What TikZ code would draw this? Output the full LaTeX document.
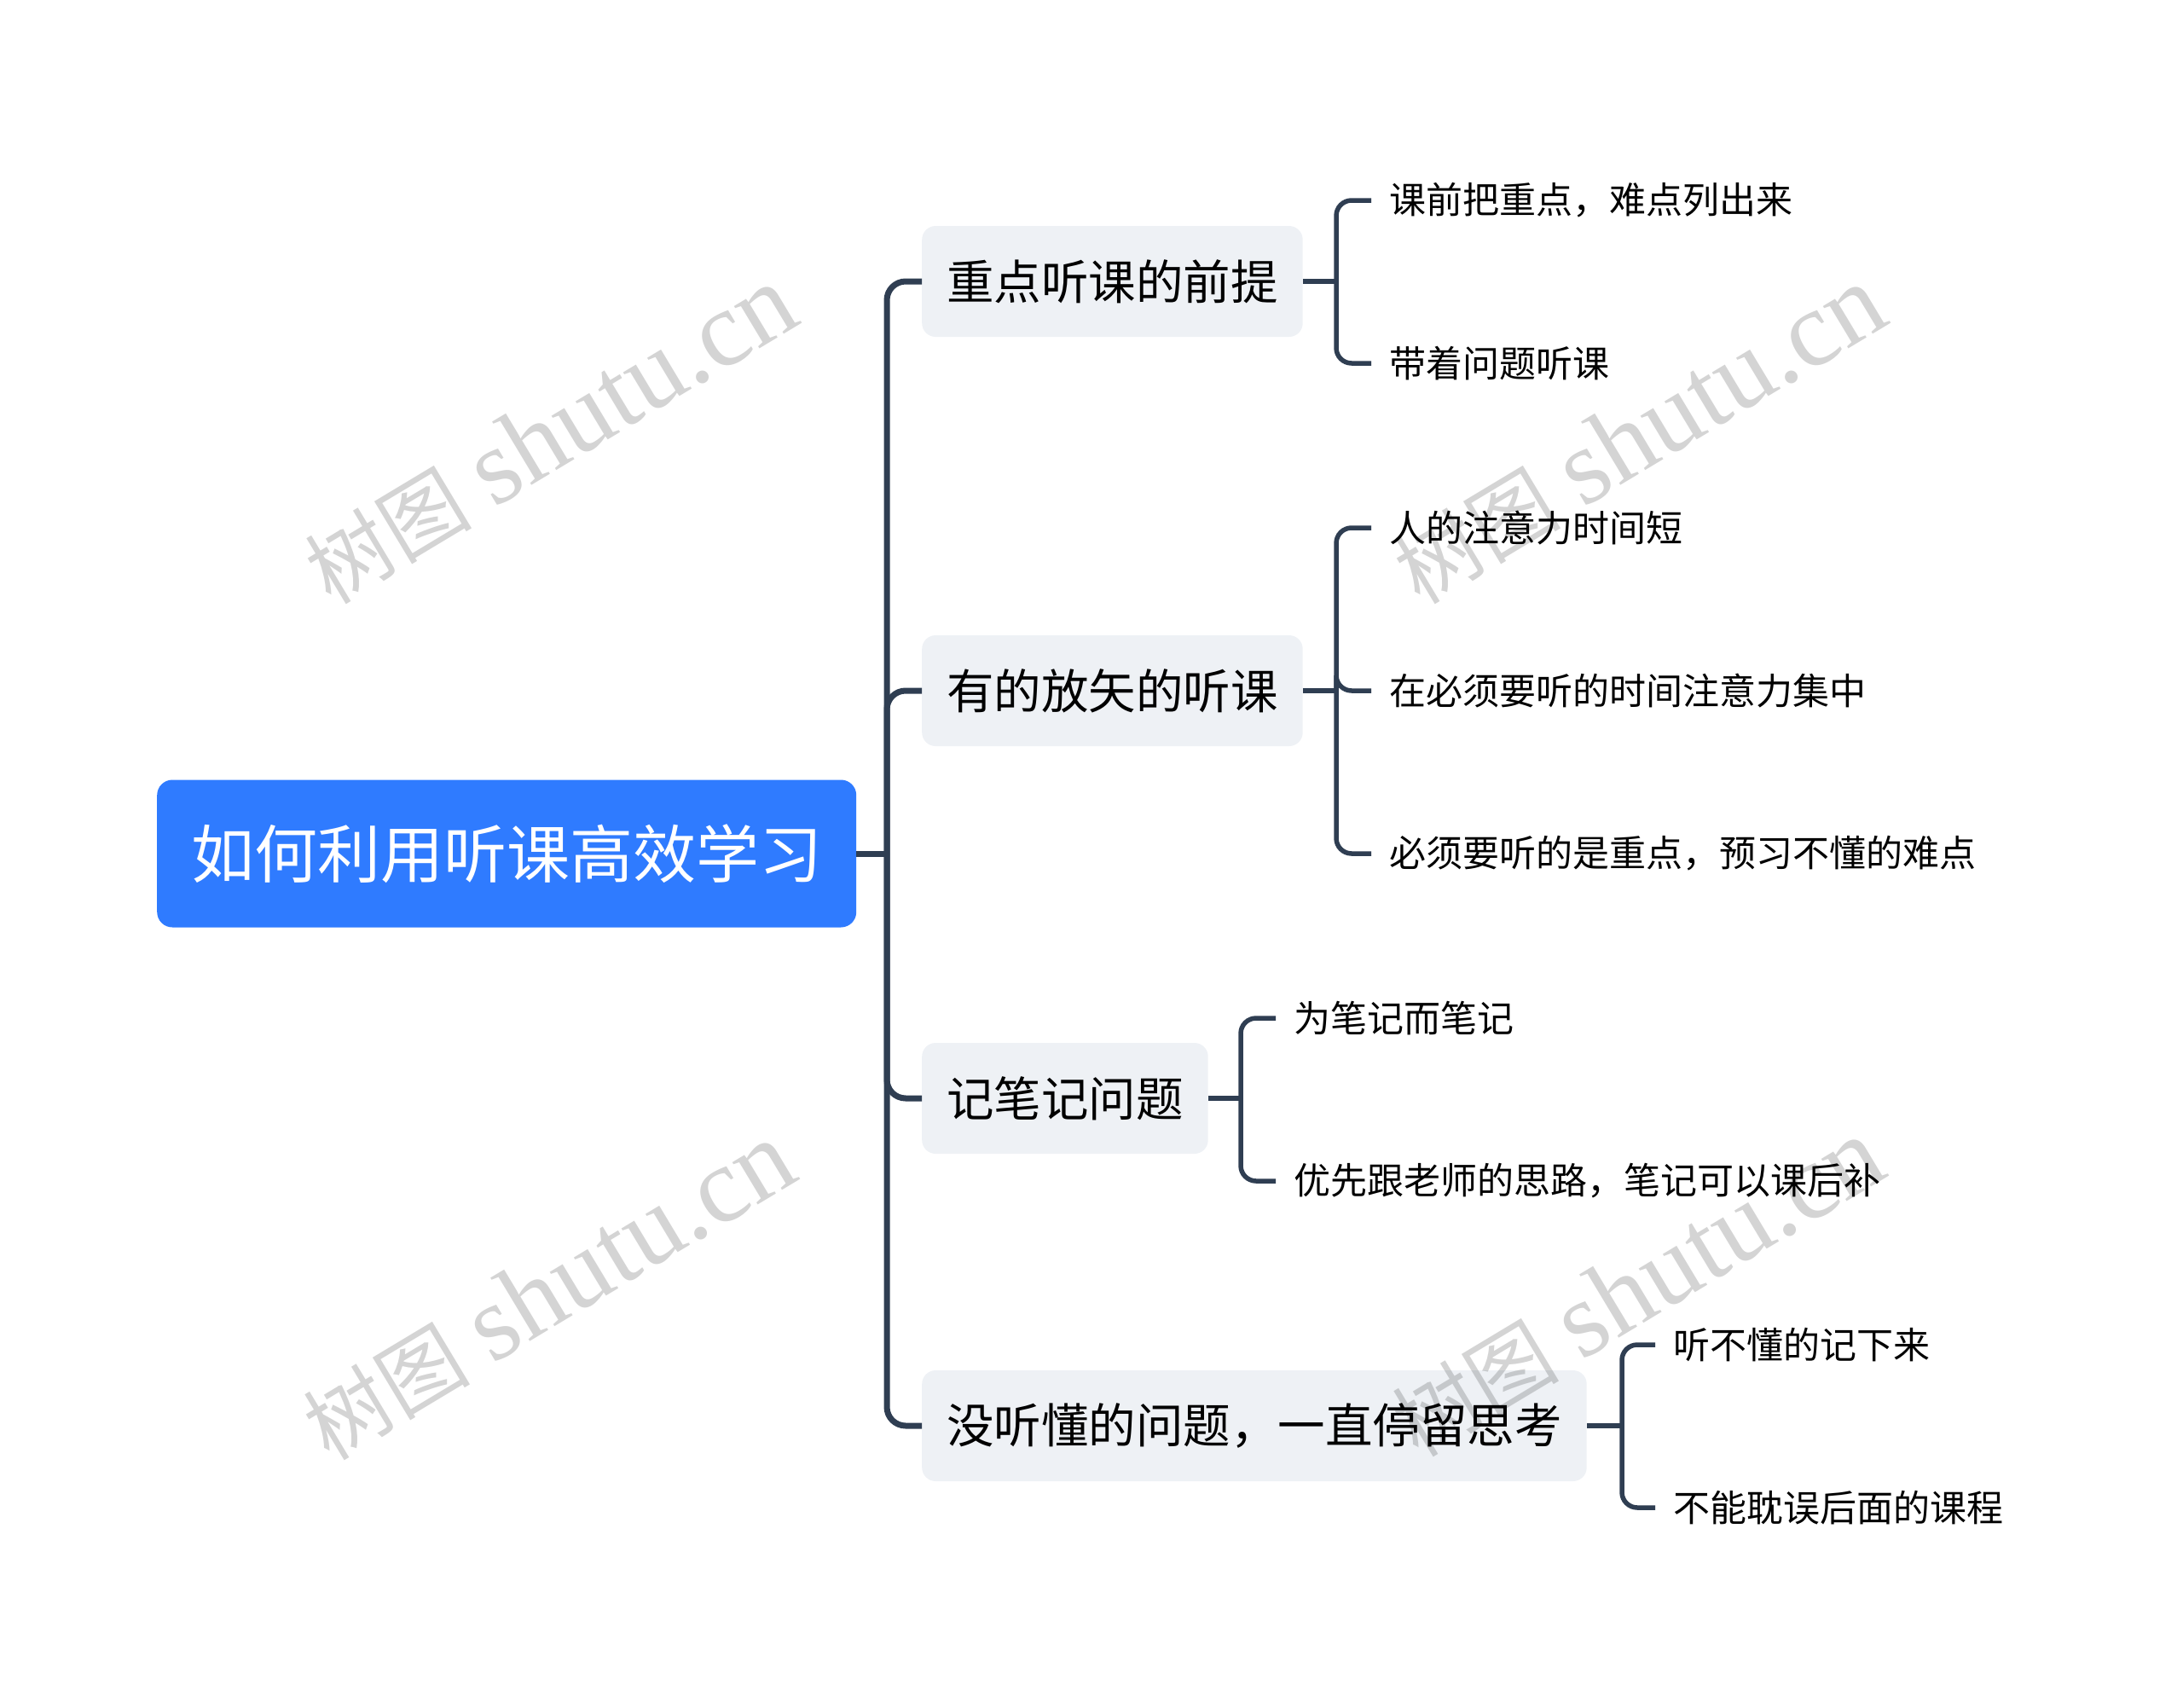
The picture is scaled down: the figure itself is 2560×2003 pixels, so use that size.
\documentclass[tikz,border=0pt]{standalone}
\usepackage{fontspec}
\newfontfamily\cjk{Noto Sans CJK SC}
\newfontfamily\wmserif{Liberation Serif}
\usetikzlibrary{positioning,calc}

\definecolor{rootblue}{HTML}{2F7BFF}
\definecolor{topicgray}{HTML}{EEF1F5}
\definecolor{linkslate}{HTML}{2F3E52}

\tikzset{
  rootbox/.style={rectangle, rounded corners=18pt, fill=rootblue, text=white,
    font=\cjk\fontsize{74}{90}\selectfont, inner xsep=40pt, minimum height=173pt, anchor=west},
  topicbox/.style={rectangle, rounded corners=16pt, fill=topicgray,
    font=\cjk\fontsize{55.5}{66}\selectfont, inner xsep=29pt, minimum height=130pt, anchor=west},
  leaf/.style={font=\cjk\fontsize{43}{52}\selectfont, inner xsep=21pt, inner ysep=0pt, anchor=west},
  trunk/.style={draw=linkslate, line width=7pt, rounded corners=22pt},
  twig/.style={draw=linkslate, line width=5.5pt, rounded corners=18pt},
  watermark/.style={text=black, text opacity=0.17, rotate=31, inner sep=0pt}
}
\newcommand{\wmtext}{{\cjk\fontsize{98}{110}\selectfont 树图}\hspace{26pt}{\wmserif\fontsize{126}{140}\selectfont shutu.cn}}

\begin{document}
\begin{tikzpicture}[x=1pt, y=-1pt]
  \useasboundingbox (0,0) rectangle (2560,2003);

  % central topic
  \node (root) [rootbox] at (184,1001) {如何利用听课高效学习};

  % main branches
  \node (prem) [topicbox] at (1081,330) {重点听课的前提};
  \node (aim) [topicbox] at (1081,810) {有的放矢的听课};
  \node (notes) [topicbox] at (1081,1288) {记笔记问题};
  \node (stuck) [topicbox] at (1081,1672) {没听懂的问题，一直停留思考};

  % leaves
  \node (prem1) [leaf] at (1608,235) {课前把重点，难点列出来};
  \node (prem2) [leaf] at (1608,426) {带着问题听课};
  \node (aim1) [leaf] at (1608,619) {人的注意力时间短};
  \node (aim2) [leaf] at (1608,810) {在必须要听的时间注意力集中};
  \node (aim3) [leaf] at (1608,1001) {必须要听的是重点，预习不懂的难点};
  \node (notes1) [leaf] at (1496,1194) {为笔记而笔记};
  \node (notes2) [leaf] at (1496,1385) {优先跟老师的思路，笔记可以课后补};
  \node (stuck1) [leaf] at (1941,1577) {听不懂的记下来};
  \node (stuck2) [leaf] at (1941,1768) {不能耽误后面的课程};

  % junctions
  \coordinate (jroot) at (1040,1001);
  \coordinate (jprem) at (1567,330);
  \coordinate (jaim) at (1567,810);
  \coordinate (jnotes) at (1455,1288);
  \coordinate (jstuck) at (1902,1672);

  \draw[trunk] (root.east) -- (jroot);
  \foreach \t in {prem,aim,notes,stuck}
    \draw[trunk] (jroot) |- (\t.west);

  \draw[twig] (prem.east) -- (jprem);
  \draw[twig] (jprem) |- (prem1.west);
  \draw[twig] (jprem) |- (prem2.west);
  \draw[twig] (aim.east) -- (jaim);
  \foreach \c in {aim1,aim2,aim3}
    \draw[twig] (jaim) |- (\c.west);
  \draw[twig] (notes.east) -- (jnotes);
  \draw[twig] (jnotes) |- (notes1.west);
  \draw[twig] (jnotes) |- (notes2.west);
  \draw[twig] (stuck.east) -- (jstuck);
  \draw[twig] (jstuck) |- (stuck1.west);
  \draw[twig] (jstuck) |- (stuck2.west);

  % watermarks
  \node (wm1) [watermark] at (645,510) {\wmtext};
  \node (wm2) [watermark] at (1922,510) {\wmtext};
  \node (wm3) [watermark] at (643,1514) {\wmtext};
  \node (wm4) [watermark] at (1920,1510) {\wmtext};
\end{tikzpicture}
\end{document}
